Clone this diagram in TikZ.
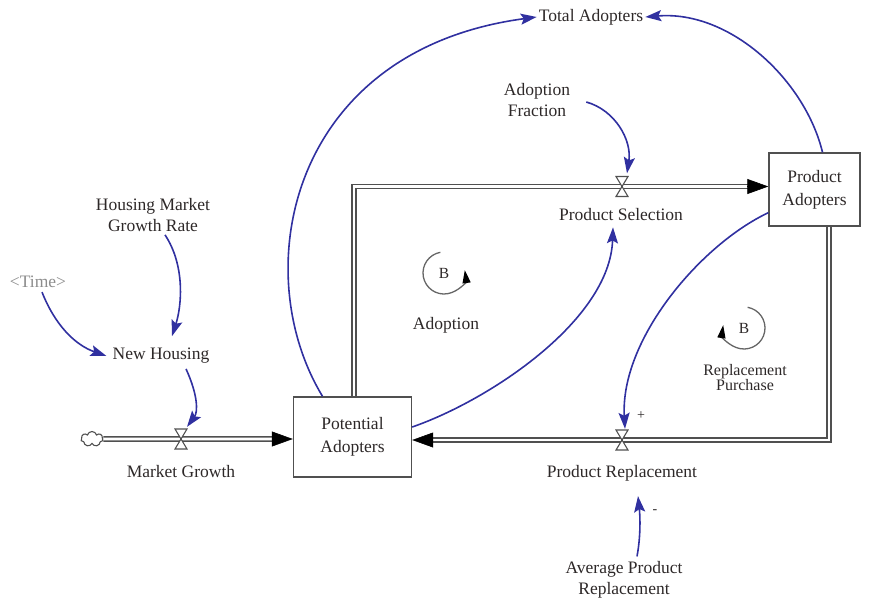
\documentclass[tikz,border=0pt]{standalone}
\usepackage{fontspec}
\setmainfont{Liberation Serif}
\usetikzlibrary{arrows.meta,shapes.symbols,calc}
\definecolor{linkblue}{RGB}{48,48,160}
\definecolor{pipegray}{RGB}{80,80,80}
\definecolor{txt}{RGB}{45,40,40}
\begin{document}
\begin{tikzpicture}[x=1pt,y=1pt,
  every node/.style={text=txt,font=\fontsize{17.5}{21}\selectfont,align=center,inner sep=2pt},
  stock/.style={draw=pipegray,line width=1.4pt,fill=white,minimum width=118pt,minimum height=80pt,font=\fontsize{17.5}{23}\selectfont},
  pipe/.style={draw=pipegray,line width=1.5pt,double=white,double distance=2.8pt,line join=miter},
  pipetip/.style={-{Triangle[length=21pt,width=15pt]},draw=black,fill=black,line width=0.6pt},
  link/.style={draw=linkblue,line width=1.6pt,-{Stealth[length=16pt,width=11pt,inset=3pt]}},
  valvebox/.style={minimum width=12pt,minimum height=20pt,inner sep=0pt},
  loopring/.style={draw=black!60,line width=1.3pt,-{Triangle[length=13pt,width=8pt,black]}},
  hourglass/.pic={\draw[pipegray,line width=1.1pt,fill=white,line join=miter]
      (-6,10) -- (6,10) -- (-6,-10) -- (6,-10) -- cycle;}
]
\useasboundingbox (0,0) rectangle (888,-608);

% stocks
\node[stock] (PA) at (352.5,-437) {Potential\\Adopters};
\node[stock,minimum width=91pt,minimum height=73pt] (ProdA) at (814.5,-189.5) {Product\\Adopters};

% source cloud
\node[cloud,cloud puffs=7,aspect=1.5,draw=pipegray,line width=1.1pt,minimum width=22pt,minimum height=15pt,inner sep=0pt] (cl) at (92,-439) {};

% valves (flow rate positions)
\node[valvebox] (vMG) at (181,-439) {};
\node[valvebox] (vPS) at (622,-186.5) {};
\node[valvebox] (vPR) at (622,-440) {};

% pipes
\draw[pipe] (cl.east) -- ([yshift=-2pt,xshift=-18pt]PA.west);
\draw[pipetip] ([yshift=-2pt,xshift=-20pt]PA.west) -- ([yshift=-2pt]PA.west);
\draw[pipe] ([xshift=1.5pt]PA.north) |- ([yshift=3pt,xshift=-18pt]ProdA.west);
\draw[pipetip] ([yshift=3pt,xshift=-20pt]ProdA.west) -- ([yshift=3pt]ProdA.west);
\draw[pipe] ([xshift=14.5pt]ProdA.south) |- ([yshift=-3pt,xshift=18pt]PA.east);
\draw[pipetip] ([yshift=-3pt,xshift=20pt]PA.east) -- ([yshift=-3pt]PA.east);

% redraw stocks above pipe ends
\node[stock] at (PA) {Potential\\Adopters};
\node[stock,minimum width=91pt,minimum height=73pt] at (ProdA) {Product\\Adopters};

\pic at (vMG) {hourglass};
\pic at (vPS) {hourglass};
\pic at (vPR) {hourglass};

% variables
\node (TA) at (591,-17) {Total Adopters};
\node (AF) at (537,-100) {Adoption\\Fraction};
\node (HMGR) at (153,-215) {Housing Market\\Growth Rate};
\node[text=black!45] (TIME) at (38,-282) {<Time>};
\node (NH) at (161,-356) {New Housing};
\node (MG) at (181,-472) {Market Growth};
\node (PS) at (621,-215) {Product Selection};
\node (PR) at (622,-473) {Product Replacement};
\node (APR) at (624,-580) {Average Product\\Replacement};

% causal links
\draw[link] ([xshift=-30pt]PA.north) .. controls (246,-270) and (290,-50) .. (TA.west);
\draw[link] ([xshift=8pt]ProdA.north) .. controls (805,-80) and (730,-10) .. (TA.east);
\draw[link] ([xshift=14pt,yshift=-2pt]AF.east) .. controls (615,-110) and (632,-140) .. ([xshift=5pt,yshift=3pt]vPS.north);
\draw[link] ([yshift=10pt]PA.east) .. controls (490,-400) and (610,-320) .. ([xshift=-8pt,yshift=-4pt]PS.south);
\draw[link] ([yshift=14pt]ProdA.south west) .. controls (700,-245) and (620,-340) .. ([xshift=3pt,yshift=1pt]vPR.north);
\draw[link] ([xshift=13pt,yshift=3pt]APR.north) .. controls (641,-535) and (640,-515) .. ([xshift=16pt,yshift=-13pt]PR.south);
\draw[link] ([xshift=12pt,yshift=-1pt]HMGR.south) .. controls (185,-265) and (182,-305) .. ([xshift=11pt,yshift=10pt]NH.north);
\draw[link] ([xshift=4pt,yshift=-2pt]TIME.south) .. controls (55,-325) and (75,-345) .. ([xshift=-4pt]NH.west);
\draw[link] ([xshift=25pt,yshift=-3pt]NH.south) .. controls (198,-395) and (198,-412) .. ([xshift=6pt,yshift=2pt]vMG.north);

% polarity signs
\node[font=\fontsize{14}{14}\selectfont] (plus) at (641,-416) {+};
\node[font=\fontsize{14}{14}\selectfont] (minus) at (655,-512) {-};

% feedback loop markers
\node[font=\fontsize{15.5}{15}\selectfont] (B1) at (444,-273) {B};
\draw[loopring] ($(B1)+(100:21)$) arc[start angle=100,end angle=368,radius=21];
\node (L1) at (446,-325) {Adoption};
\node[font=\fontsize{15.5}{15}\selectfont] (B2) at (744,-328) {B};
\draw[loopring] ($(B2)+(80:21)$) arc[start angle=80,end angle=-188,radius=21];
\node[font=\fontsize{16}{15}\selectfont] (L2) at (745,-378) {Replacement\\Purchase};
\end{tikzpicture}
\end{document}
